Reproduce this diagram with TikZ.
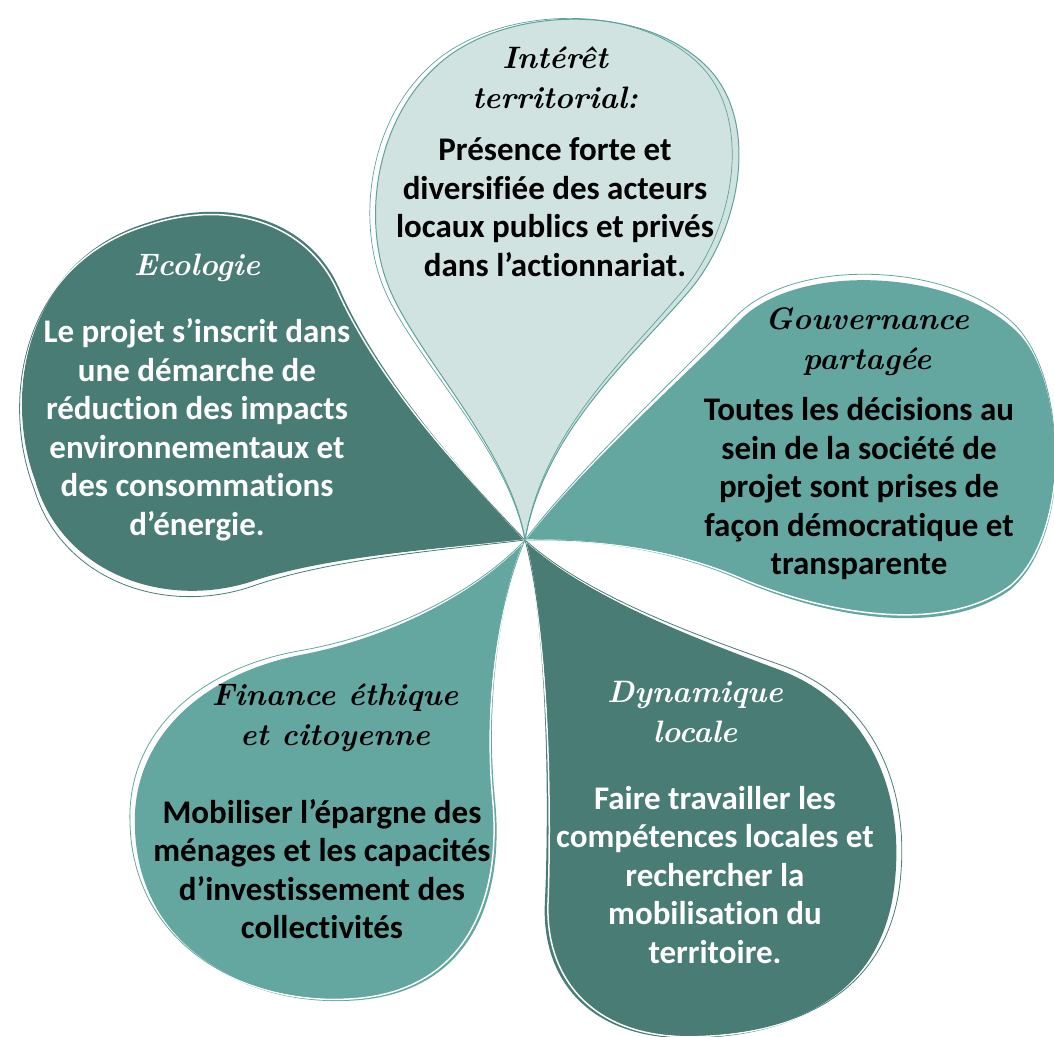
\documentclass[tikz,border=0pt]{standalone}
\usepackage{fontspec}
\newfontfamily\bodyfont{Carlito}[Ligatures=NoCommon]

\definecolor{palefill}{HTML}{D1E3E1}
\definecolor{midfill}{HTML}{63A7A0}
\definecolor{darkfill}{HTML}{487C75}
\definecolor{rimline}{HTML}{5EA29B}

\tikzset{
  body/.style={align=center, font=\bodyfont\bfseries\fontsize{33}{38.5}\selectfont},
  head/.style={align=center, font=\rmfamily\bfseries\itshape\fontsize{31}{40}\selectfont},
  % petal outlines, tip at the centre of the flower
  toppetal/.style={insert path={(525,540) .. controls (510,450) and (420,360) .. (390,290)
      .. controls (360,220) and (375,110) .. (450,55)
      .. controls (520,5) and (650,5) .. (710,70)
      .. controls (760,125) and (740,230) .. (690,290)
      .. controls (630,360) and (545,430) .. cycle}},
  ecopetal/.style={insert path={(525,540) .. controls (450,548) and (330,555) .. (250,582)
      .. controls (160,610) and (60,570) .. (35,480)
      .. controls (5,400) and (20,260) .. (150,222)
      .. controls (230,196) and (310,220) .. (340,290)
      .. controls (380,380) and (460,470) .. cycle}},
  govpetal/.style={insert path={(525,540) .. controls (580,540) and (660,545) .. (740,580)
      .. controls (820,615) and (940,640) .. (1010,590)
      .. controls (1070,540) and (1070,390) .. (1020,335)
      .. controls (960,270) and (800,260) .. (740,320)
      .. controls (680,380) and (580,470) .. cycle}},
  dynpetal/.style={insert path={(525,540) .. controls (590,600) and (700,640) .. (780,670)
      .. controls (860,700) and (905,780) .. (895,880)
      .. controls (885,990) and (800,1040) .. (680,1038)
      .. controls (590,1036) and (540,980) .. (545,900)
      .. controls (550,780) and (545,620) .. cycle}},
  finpetal/.style={insert path={(525,540) .. controls (470,600) and (380,640) .. (300,655)
      .. controls (200,675) and (130,740) .. (135,830)
      .. controls (140,950) and (250,1010) .. (360,1000)
      .. controls (470,990) and (505,900) .. (495,800)
      .. controls (485,700) and (500,600) .. cycle}},
}

\begin{document}
\begin{tikzpicture}[x=1pt, y=-1pt]
  \useasboundingbox (0,0) rectangle (1054,1036);

  \fill[darkfill, ecopetal];
  \draw[white, line width=1.5pt, rotate around={0.5:(525,540)}, ecopetal];
  \draw[darkfill, line width=0.8pt, rotate around={1:(525,540)}, ecopetal];

  \fill[midfill, govpetal];
  \draw[white, line width=1.5pt, rotate around={0.5:(525,540)}, govpetal];
  \draw[midfill, line width=0.8pt, rotate around={1:(525,540)}, govpetal];

  \fill[darkfill, dynpetal];
  \draw[white, line width=1.5pt, rotate around={0.5:(525,540)}, dynpetal];
  \draw[darkfill, line width=0.8pt, rotate around={1:(525,540)}, dynpetal];

  \fill[midfill, finpetal];
  \draw[white, line width=1.5pt, rotate around={-0.5:(525,540)}, finpetal];
  \draw[midfill, line width=0.8pt, rotate around={-1:(525,540)}, finpetal];

  \fill[palefill, toppetal];
  \draw[rimline, line width=1pt, toppetal];
  \draw[rimline, line width=0.7pt, rotate around={1:(525,540)}, toppetal];

  \node[head] (toptitle) at (555,78) {Intérêt\\territorial:};
  \node[body] (toptext) at (555,207) {Présence forte et\\diversifiée des acteurs\\locaux publics et privés\\dans l’actionnariat.};

  \node[head, white] (ecotitle) at (197,268) {Ecologie};
  \node[body, white] (ecotext) at (197,430) {Le projet s’inscrit dans\\une démarche de\\réduction des impacts\\environnementaux et\\des consommations\\d’énergie.};

  \node[head] (govtitle) at (867,342) {Gouvernance\\partagée};
  \node[body] (govtext) at (859,489) {Toutes les décisions au\\sein de la société de\\projet sont prises de\\façon démocratique et\\transparente};

  \node[head] (fintitle) at (335,718) {Finance éthique\\et citoyenne};
  \node[body] (fintext) at (322,869) {Mobiliser l’épargne des\\ménages et les capacités\\d’investissement des\\collectivités};

  \node[head, white] (dyntitle) at (695,712) {Dynamique\\locale};
  \node[body, white] (dyntext) at (715,875) {Faire travailler les\\compétences locales et\\rechercher la\\mobilisation du\\territoire.};
\end{tikzpicture}
\end{document}
